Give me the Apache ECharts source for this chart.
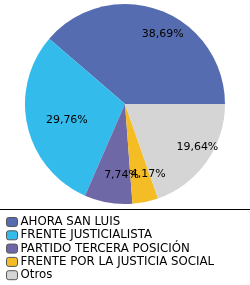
<!DOCTYPE html>
<html>
<head>
<meta charset="utf-8">
<script src="https://cdn.jsdelivr.net/npm/echarts@6/dist/echarts.min.js"></script>
<style>
  html, body { margin: 0; padding: 0; background: #fff; }
  #chart { width: 250px; height: 285px; }
</style>
</head>
<body>
<div id="chart"></div>
<script>
const parties = [
  "AHORA SAN LUIS",
  "FRENTE JUSTICIALISTA",
  "PARTIDO TERCERA POSICIÓN",
  "FRENTE POR LA JUSTICIA SOCIAL",
  "Otros",
];
const shares = [38.69, 29.76, 7.74, 4.17, 19.64];
const colors = ["#566cb0", "#33bbec", "#6f68a6", "#f4bd25", "#d5d5d5"];
// small nudges so the percent labels sit where the original puts them
const labelShift = [[12, 0], [14, 0], [9, -2], [8, -2], [12, 0]];

const chart = echarts.init(document.getElementById("chart"));

const slices = parties.map((name, i) => ({
  name,
  value: shares[i],
  itemStyle: { color: colors[i] },
}));

// percent text like "38,69%"
const fmt = (p) => p.value.toFixed(2).replace(".", ",") + "%";

const option = {
  animation: false,
  legend: {
    orient: "vertical",
    left: 6,
    top: 216,
    height: 80,
    padding: 0,
    itemWidth: 11,
    itemHeight: 9,
    itemGap: 1.3,
    icon: "roundRect",
    data: parties,
    textStyle: {
      fontFamily: "DejaVu Sans",
      fontSize: 11.8,
      lineHeight: 12,
      color: "#000",
      padding: [0, 0, 0, -2],
    },
    itemStyle: { borderColor: "#555", borderWidth: 1 },
    selectedMode: false,
  },
  graphic: [
    {
      type: "line",
      shape: { x1: 0, y1: 209.5, x2: 250, y2: 209.5 },
      style: { stroke: "#000", lineWidth: 1 },
    },
  ],
  series: [
    {
      type: "pie",
      center: [125, 104],
      radius: [0, 100],
      startAngle: 0,
      clockwise: false,
      data: slices,
      label: { show: false },
      labelLine: { show: false },
      itemStyle: { borderWidth: 0 },
      silent: true,
    },
    {
      // transparent ring used only to place labels further out
      type: "pie",
      center: [125, 104],
      radius: [42, 100],
      startAngle: 0,
      clockwise: false,
      data: parties.map((name, i) => ({
        name,
        value: shares[i],
        label: { offset: labelShift[i] },
      })),
      itemStyle: { color: "rgba(0,0,0,0)" },
      label: {
        show: true,
        position: "inside",
        formatter: fmt,
        fontFamily: "DejaVu Sans",
        fontSize: 11,
        color: "#000",
      },
      labelLayout: { hideOverlap: false },
      labelLine: { show: false },
      silent: true,
    },
  ],
};

chart.setOption(option);
</script>
</body>
</html>
